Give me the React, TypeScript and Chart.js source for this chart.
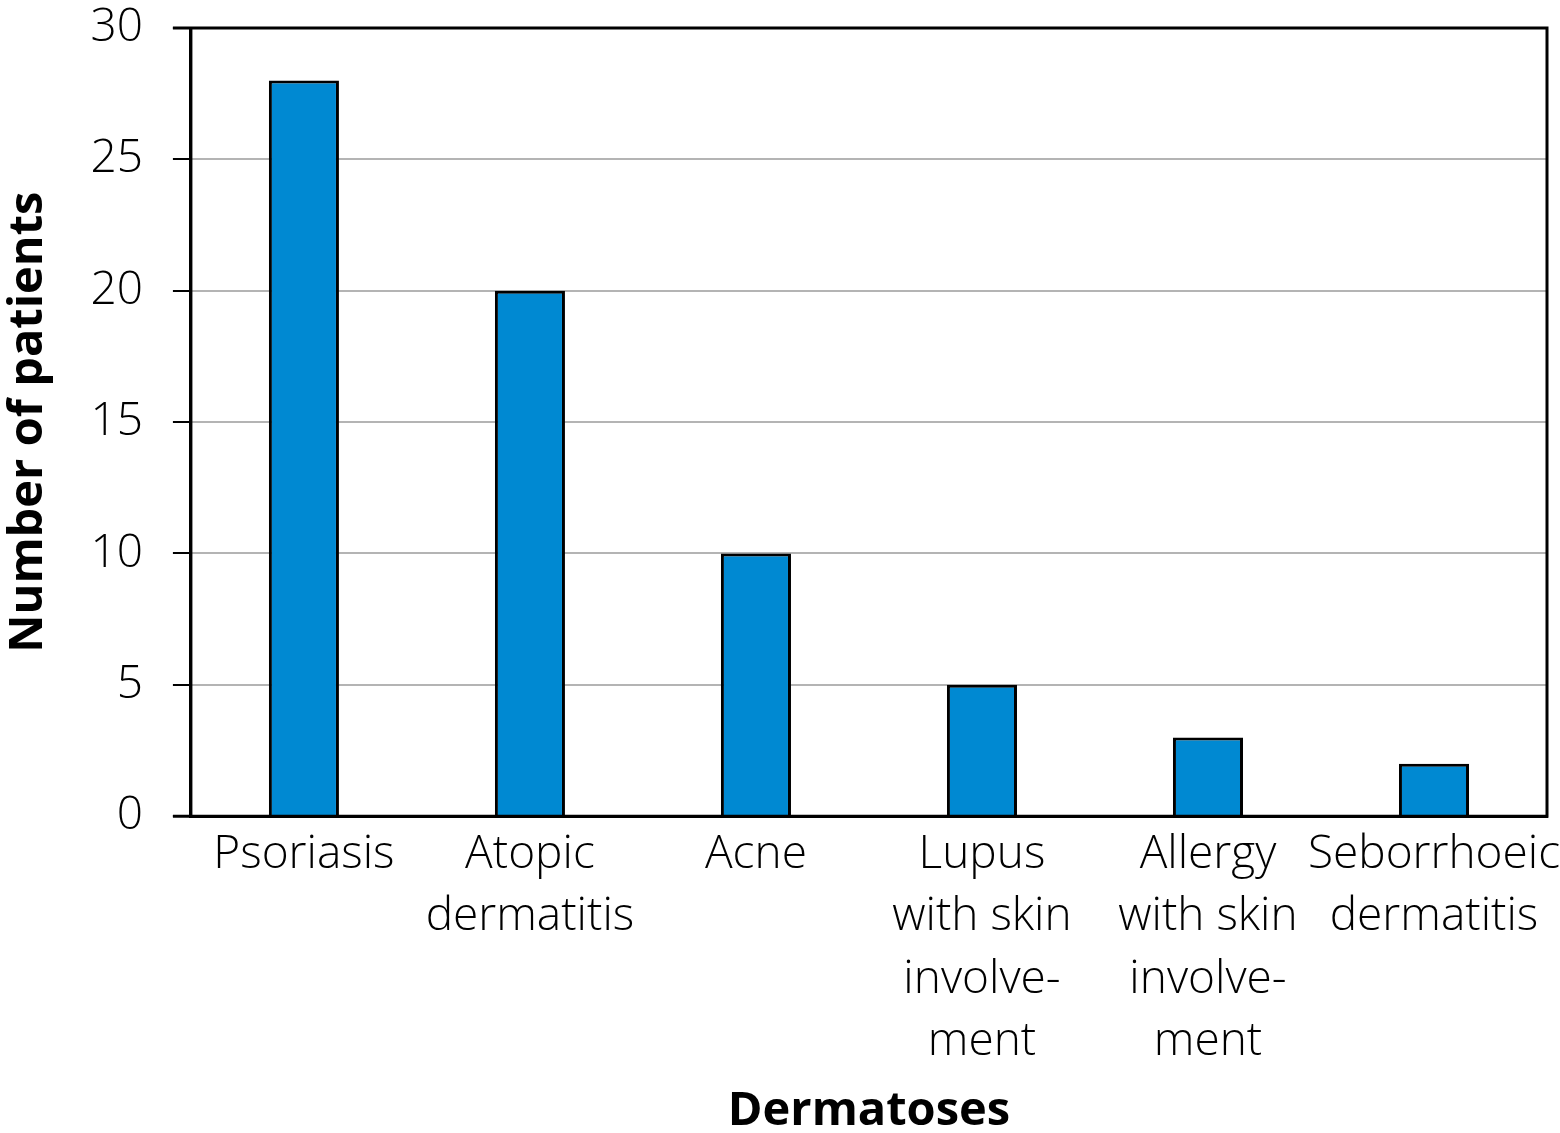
import React, { useEffect, useRef } from "react";
import { Chart, registerables } from "chart.js";

Chart.register(...registerables);

const categories: string[][] = [
  ["Psoriasis"],
  ["Atopic", "dermatitis"],
  ["Acne"],
  ["Lupus", "with skin", "involve-", "ment"],
  ["Allergy", "with skin", "involve-", "ment"],
  ["Seborrhoeic", "dermatitis"],
];
const patients: number[] = [28, 20, 10, 5, 3, 2];
const yTicks: number[] = [0, 5, 10, 15, 20, 25, 30];

const FONT = "'Open Sans', sans-serif";

const framePlugin = {
  id: "frame",
  afterDatasetsDraw(chart: any) {
    const { ctx, chartArea } = chart;
    ctx.save();
    ctx.strokeStyle = "#000";
    ctx.lineWidth = 3;
    ctx.beginPath();
    ctx.moveTo(chartArea.left - 18, chartArea.top);
    ctx.lineTo(chartArea.right, chartArea.top);
    ctx.lineTo(chartArea.right, chartArea.bottom);
    ctx.lineTo(chartArea.left - 18, chartArea.bottom);
    ctx.moveTo(chartArea.left, chartArea.top);
    ctx.lineTo(chartArea.left, chartArea.bottom);
    ctx.stroke();
    ctx.restore();
  },
};

export default function App() {
  const ref = useRef<HTMLCanvasElement | null>(null);
  useEffect(() => {
    document.body.style.margin = "0";
    if (!ref.current) return;
    const chart = new Chart(ref.current, {
      type: "bar",
      data: {
        labels: categories,
        datasets: [
          {
            data: patients,
            backgroundColor: "#0089d2",
            borderColor: "#000",
            borderWidth: 3,
            barPercentage: 0.31,
            categoryPercentage: 1,
          },
        ],
      },
      options: {
        animation: false,
        responsive: false,
        maintainAspectRatio: false,
        layout: { padding: { top: 28, right: 13, left: 0, bottom: -7 } },
        plugins: { legend: { display: false }, tooltip: { enabled: false } },
        scales: {
          x: {
            afterFit: (axis: any) => {
              axis.paddingLeft = 0;
              axis.paddingRight = 0;
            },
            grid: { display: false },
            border: { display: true, color: "#000", width: 3 },
            ticks: {
              color: "#000",
              font: { family: FONT, size: 46, weight: 300, lineHeight: 1.35 },
              maxRotation: 0,
              autoSkip: false,
              padding: 0,
            },
            title: {
              display: true,
              text: "Dermatoses",
              color: "#000",
              font: { family: FONT, size: 47, weight: "bold" },
              padding: { top: 11, bottom: 0 },
            },
          },
          y: {
            min: 0,
            max: 30,
            afterBuildTicks: (axis: any) => {
              axis.ticks = yTicks.map((v) => ({ value: v }));
            },
            afterFit: (axis: any) => {
              axis.paddingTop = 0;
              axis.paddingBottom = 0;
            },
            grid: {
              color: "#b4b4b4",
              lineWidth: 2,
              tickColor: "#000",
              tickLength: 18,
              drawTicks: true,
            },
            border: { display: true, color: "#000", width: 3 },
            ticks: {
              color: "#000",
              font: { family: FONT, size: 46, weight: 300 },
              padding: 30,
            },
            title: {
              display: true,
              text: "Number of patients",
              color: "#000",
              font: { family: FONT, size: 47, weight: "bold" },
              padding: { top: 0, bottom: 4 },
            },
          },
        },
      },
      plugins: [framePlugin],
    });
    return () => chart.destroy();
  }, []);
  return <canvas ref={ref} width={1560} height={1133} style={{ display: "block" }} />;
}
